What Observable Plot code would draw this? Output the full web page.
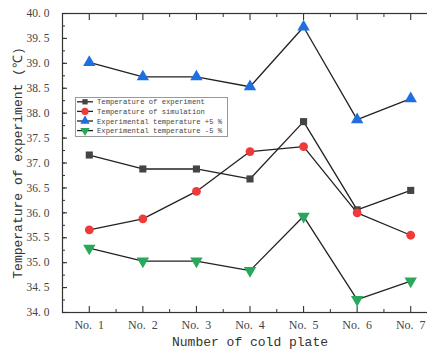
<!DOCTYPE html>
<html>
<head>
<meta charset="utf-8">
<script src="https://cdn.jsdelivr.net/npm/d3@7"></script>
<script src="https://cdn.jsdelivr.net/npm/@observablehq/plot@0.6"></script>
<style>
  html, body { margin: 0; padding: 0; background: #fff; overflow: hidden; }
  #wrap { position: relative; width: 427px; height: 354px; overflow: hidden; }
  #chart svg { max-width: none !important; }
  #legend { position: absolute; left: 75px; top: 97px; }
</style>
</head>
<body>
<div id="wrap"><div id="chart"></div><div id="legend"></div></div>
<script>
const plates = ["No. 1", "No. 2", "No. 3", "No. 4", "No. 5", "No. 6", "No. 7"];
const expT   = [37.16, 36.88, 36.88, 36.68, 37.83, 36.06, 36.45];
const simT   = [35.66, 35.88, 36.43, 37.23, 37.33, 36.00, 35.55];
const plus5  = [39.02, 38.73, 38.73, 38.53, 39.73, 37.87, 38.29];
const minus5 = [35.29, 35.03, 35.03, 34.84, 35.93, 34.26, 34.63];
const seriesNames = ["Temperature of experiment", "Temperature of simulation", "Experimental temperature +5 %", "Experimental temperature -5 %"];
const yTicks = d3.range(34, 40.01, 0.5);
const yMinor = d3.range(34, 40.01, 0.25);
const xLabel = "Number of cold plate";
const yLabel = "Temperature of experiment (℃)";

const styles = [
  {fill: "#444444", symbol: "square", r: 4.0, rotate: 0},
  {fill: "#f03a3a", symbol: "circle", r: 4.4, rotate: 0},
  {fill: "#1f6fe0", symbol: "triangle", r: 4.6, rotate: 0},
  {fill: "#27a85a", symbol: "triangle", r: 4.6, rotate: 180}
];
const allSeries = [expT, simT, plus5, minus5];
const rows = [];
allSeries.forEach((vals, s) => vals.forEach((v, i) => rows.push({s, i: i + 1, v})));

const serif = "'Liberation Serif', 'DejaVu Serif', serif";
const mono = "'Liberation Mono', 'DejaVu Sans Mono', monospace";
const xIdx = plates.map((_, i) => i + 1);
const xMinor = d3.range(1.5, plates.length, 1);

const chart = Plot.plot({
  width: 437,
  height: 354,
  marginLeft: 62,
  marginRight: 0,
  marginTop: 13,
  marginBottom: 42,
  style: {fontFamily: serif, color: "#333", background: "#fff", maxWidth: "none"},
  x: {domain: [0.5, plates.length + 0.5]},
  y: {domain: [34, 40]},
  marks: [
    Plot.frame({stroke: "#333", strokeWidth: 1.2}),
    // y axis: major inward ticks, minor inward ticks, labels
    Plot.axisY({ticks: yTicks, tickSize: -5, text: null, stroke: "#333", strokeWidth: 1.1, label: null}),
    Plot.axisY({ticks: yMinor, tickSize: -3, text: null, stroke: "#333", label: null}),
    Plot.axisY({ticks: yTicks, tickSize: 0, tickPadding: 13, tickFormat: d => d.toFixed(1).replace(".", ". "), fontFamily: serif, fontSize: 11.5, fill: "#444", label: null}),
    // x axis bottom
    Plot.axisX({ticks: xIdx, tickSize: -6, text: null, stroke: "#333", strokeWidth: 1.1, label: null}),
    Plot.axisX({ticks: xMinor, tickSize: -3, text: null, stroke: "#333", label: null}),
    Plot.axisX({ticks: xIdx, tickSize: 0, tickPadding: 8, tickFormat: d => plates[d - 1].replace(" ", "  "), fontFamily: serif, fontSize: 12, fill: "#444", label: null}),
    // x axis top
    Plot.axisX({anchor: "top", ticks: xIdx, tickSize: -6, text: null, stroke: "#333", strokeWidth: 1.1, label: null}),
    Plot.axisX({anchor: "top", ticks: xMinor, tickSize: -3, text: null, stroke: "#333", label: null}),
    // lines
    Plot.line(rows, {x: "i", y: "v", z: "s", stroke: "#222", strokeWidth: 1.3}),
    // markers
    ...styles.map((st, s) => Plot.dot(rows.filter(d => d.s === s), {
      x: "i", y: "v", symbol: st.symbol, r: st.r, fill: st.fill, stroke: "none", rotate: st.rotate
    })),
    // axis titles
    Plot.text([xLabel], {text: d => d, frameAnchor: "bottom", dy: 33, fontFamily: mono, fontSize: 13, fill: "#333"}),
    Plot.text([yLabel], {text: d => d, frameAnchor: "left", textAnchor: "middle", dx: -45, rotate: -90, fontFamily: mono, fontSize: 13, fill: "#333"})
  ]
});
chart.setAttribute("xml:space", "preserve");
document.getElementById("chart").appendChild(chart);

// legend
const lw = 153, lh = 40;
const leg = d3.select("#legend").append("svg").attr("width", lw).attr("height", lh);
leg.append("rect").attr("x", 0.5).attr("y", 0.5).attr("width", lw - 1).attr("height", lh - 1)
  .attr("fill", "#fff").attr("stroke", "#999").attr("stroke-width", 1);
seriesNames.forEach((name, s) => {
  const cy = 4.8 + s * 9.6;
  const g = leg.append("g").attr("transform", `translate(0,${cy})`);
  g.append("line").attr("x1", 2).attr("x2", 18).attr("y1", 0).attr("y2", 0).attr("stroke", "#222").attr("stroke-width", 1.3);
  const st = styles[s];
  const sym = d3.symbol().type(st.symbol === "square" ? d3.symbolSquare : st.symbol === "circle" ? d3.symbolCircle : d3.symbolTriangle)
    .size(st.symbol === "square" ? 28 : st.symbol === "circle" ? 40 : 38);
  g.append("path").attr("d", sym()).attr("fill", st.fill)
    .attr("transform", `translate(10,0) rotate(${st.rotate})`);
  g.append("text").attr("x", 22).attr("y", 0).attr("dy", "0.35em")
    .attr("font-family", mono).attr("font-size", 7.2).attr("fill", "#444").text(name);
});
</script>
</body>
</html>
